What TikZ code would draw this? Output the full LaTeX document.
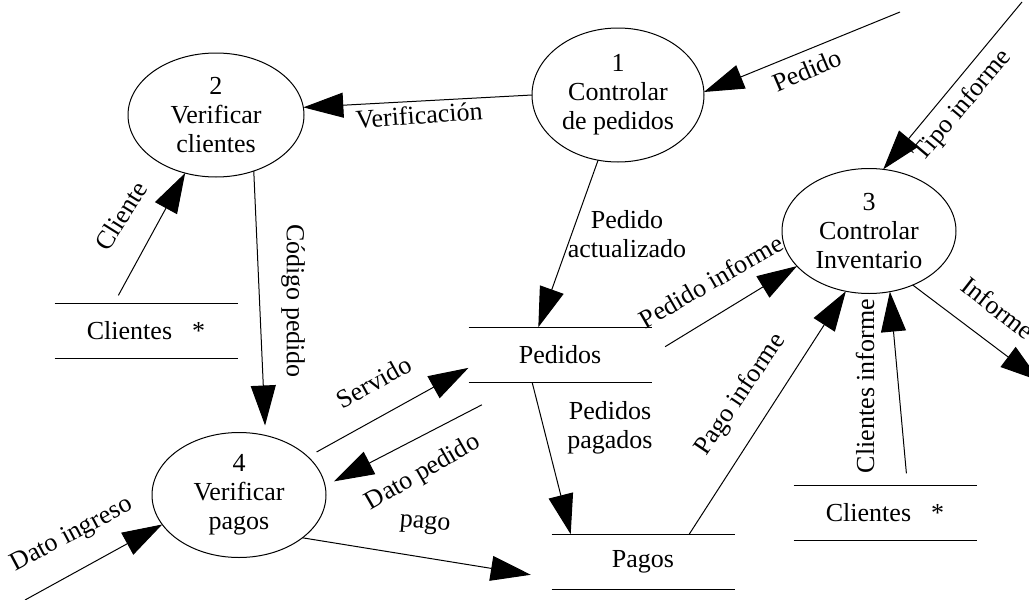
\documentclass[tikz,border=0pt]{standalone}
\usepackage{fontspec}
\setmainfont{Liberation Serif}
\usetikzlibrary{shapes,arrows.meta}

\begin{document}
\begin{tikzpicture}[x=0.5pt,y=-0.5pt]

        \tikzstyle{every node} = [font=\fontsize{13}{14.5}\selectfont]
        \tikzstyle{process} = [ellipse, draw, line width=0.5pt, inner sep=0pt, outer sep=0pt, align=center, minimum width=87pt, minimum height=62.5pt]
        \tikzstyle{store} = [rectangle, inner sep=0pt, outer sep=0pt, minimum width=91.5pt, minimum height=27.75pt]
        \tikzstyle{flow} = [line width=0.5pt, -{Triangle[length=20pt,width=12.5pt]}]

        \useasboundingbox (0,0) rectangle (1029,600);

        % procesos
        \node [process, minimum width=86pt, minimum height=67pt] (p1) at (618,95) {1\\Controlar\\de pedidos};
        \node [process, minimum width=88pt, minimum height=62pt] (p2) at (216,115) {2\\Verificar\\clientes};
        \node [process] (p3) at (869,231) {3\\Controlar\\Inventario};
        \node [process] (p4) at (239,495) {4\\Verificar\\pagos};

        % almacenes
        \foreach \n/\x/\y/\txt in {cliL/146/331/{Clientes\hspace{10pt}*}, pedidos/560/355/Pedidos, pagos/643/562/Pagos, cliR/885/513/{Clientes\hspace{10pt}*}}
        {
                \node [store] (\n) at (\x,\y) {\txt};
                \draw [line width=0.5pt] (\n.north west) -- (\n.north east) (\n.south west) -- (\n.south east);
        }

        % extremos libres
        \coordinate (inPedido) at (900,12);
        \coordinate (inTipo) at (1022,2);
        \coordinate (outInforme) at (1040,381);
        \coordinate (inDato) at (25,600);

        % flujos
        \draw [flow] (p1.180) -- (p2.5);
        \draw [flow] (inPedido) -- (p1.2);
        \draw [flow] (inTipo) -- (p3.77);
        \draw [flow] (p1.253) -- (pedidos.128);
        \draw [flow, shorten <=8pt] (pedidos.east) -- (p3.206);
        \draw [flow] (p3.309) -- (outInforme);
        \draw [flow, shorten <=6pt] (cliR.51) -- (p3.289);
        \draw [flow] (pagos.31) -- (p3.249);
        \draw [flow] (pedidos.225) -- (pagos.159);
        \draw [flow, shorten <=4.5pt] (cliL.139) -- (p2.242);
        \draw [flow, shorten >=5pt] (p2.304) -- (p4.66);
        \draw [flow, shorten <=5pt] (p4.29) -- (pedidos.188);
        \draw [flow, shorten <=24pt, shorten >=5pt] (pedidos.218) -- (p4.6);
        \draw [flow, shorten >=10.5pt] (p4.326) -- (pagos.190);
        \draw [flow] (inDato) -- (p4.201);

        % etiquetas
        \node [rotate=4] (lVerif) at (419,115) {Verificación};
        \node [rotate=23] (lPedido) at (807,70) {Pedido};
        \node [rotate=50] (lTipo) at (963,106) {Tipo informe};
        \node [align=center] (lPedAct) at (627,234) {Pedido\\actualizado};
        \node [rotate=30] (lPedInf) at (711,281) {Pedido informe};
        \node [rotate=-38] (lInforme) at (998,308) {Informe};
        \node [rotate=90] (lCliInf) at (865,386) {Clientes informe};
        \node [rotate=56] (lPagoInf) at (741,395) {Pago informe};
        \node [align=center] (lPedPag) at (610,428) {Pedidos\\pagados};
        \node [rotate=58] (lCliente) at (121,216) {Cliente};
        \node [rotate=-90] (lCodigo) at (293,301) {Código pedido};
        \node [rotate=29] (lServido) at (374,382) {Servido};
        \node [rotate=30] (lDatoPed) at (423,473) {Dato pedido};
        \node [rotate=-5] (lPago) at (425,525) {pago};
        \node [rotate=28] (lDatoIng) at (72,535) {Dato ingreso};

\end{tikzpicture}
\end{document}
